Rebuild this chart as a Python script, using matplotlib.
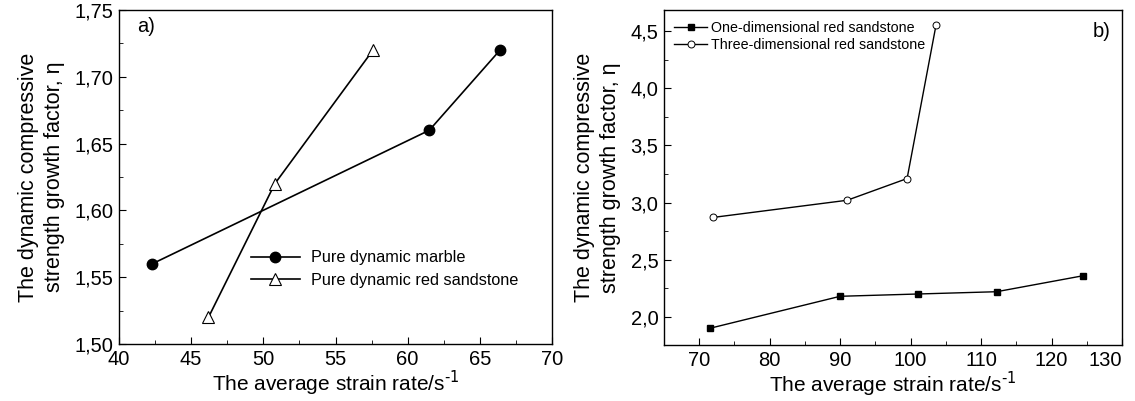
import matplotlib
matplotlib.use("Agg")
import matplotlib.pyplot as plt
from matplotlib.ticker import MultipleLocator, FuncFormatter

plt.rcParams['font.family'] = ['Liberation Sans', 'DejaVu Sans']

# panel a)
marble_x = [42.3, 61.5, 66.4]
marble_y = [1.56, 1.66, 1.72]
sand_x = [46.2, 50.8, 57.6]
sand_y = [1.52, 1.62, 1.72]

# panel b)
one_x = [71.5, 90.0, 101.0, 112.2, 124.5]
one_y = [1.90, 2.18, 2.20, 2.22, 2.36]
three_x = [72.0, 91.0, 99.5, 103.6]
three_y = [2.87, 3.02, 3.21, 4.55]
b_xticks = [70, 80, 90, 100, 110, 120, 130]

comma = lambda fmt: FuncFormatter(lambda v, p: (fmt % v).replace('.', ','))

W, H = 1135, 401
fig = plt.figure(figsize=(W / 100, H / 100), dpi=100)
ax1 = fig.add_axes([119 / W, (H - 344) / H, 433 / W, 334 / H])
ax2 = fig.add_axes([664 / W, (H - 345) / H, 458 / W, 335 / H])

ylab = "The dynamic compressive\nstrength growth factor, \u03b7"
xlab = "The average strain rate/s$^{\\text{-}1}$"

ax1.plot(marble_x, marble_y, '-o', color='black', lw=1.2, ms=7.5,
         mfc='black', label='Pure dynamic marble')
ax1.plot(sand_x, sand_y, '-^', color='black', lw=1.2, ms=8.5,
         mfc='white', mew=0.8, label='Pure dynamic red sandstone')
ax1.set_xlim(40, 70)
ax1.set_ylim(1.50, 1.75)
ax1.xaxis.set_major_locator(MultipleLocator(5))
ax1.xaxis.set_minor_locator(MultipleLocator(2.5))
ax1.yaxis.set_major_locator(MultipleLocator(0.05))
ax1.yaxis.set_minor_locator(MultipleLocator(0.025))
ax1.yaxis.set_major_formatter(comma('%.2f'))
ax1.text(0.043, 0.95, 'a)', transform=ax1.transAxes, fontsize=14.5, va='center')
ax1.legend(loc='upper left', bbox_to_anchor=(0.29, 0.30), frameon=False,
           fontsize=11.7, handlelength=3.0, handletextpad=0.7,
           labelspacing=0.45, borderaxespad=0)

ax2.plot(one_x, one_y, '-s', color='black', lw=1.0, ms=4.5,
         mfc='black', label='One-dimensional red sandstone')
ax2.plot(three_x, three_y, '-o', color='black', lw=1.0, ms=5,
         mfc='white', mew=0.7, label='Three-dimensional red sandstone')
ax2.set_xlim(65, 130)
ax2.set_ylim(1.754, 4.684)
ax2.set_xticks(b_xticks)
ax2.xaxis.set_minor_locator(MultipleLocator(5))
ax2.yaxis.set_major_locator(MultipleLocator(0.5))
ax2.yaxis.set_minor_locator(MultipleLocator(0.25))
ax2.yaxis.set_major_formatter(comma('%.1f'))
ax2.text(0.937, 0.935, 'b)', transform=ax2.transAxes, fontsize=14.5, va='center')
ax2.legend(loc='upper left', bbox_to_anchor=(0.01, 0.985), frameon=False,
           fontsize=10.3, handlelength=2.3, handletextpad=0.3,
           labelspacing=0.25, borderaxespad=0)

for ax in (ax1, ax2):
    ax.set_xlabel(xlab, fontsize=15, labelpad=0)
    ax.set_ylabel(ylab, fontsize=15.5, labelpad=7, linespacing=1.3)
    ax.tick_params(which='both', direction='in', labelsize=14.5)
    ax.tick_params(which='major', length=5, pad=4)
    ax.tick_params(which='minor', length=3)
    for s in ax.spines.values():
        s.set_linewidth(1.0)

# last x label of panel b ends at the right spine, as in the original
ax2.xaxis.get_major_ticks()[-1].label1.set_horizontalalignment('right')

fig.savefig('out.png', dpi=100)
